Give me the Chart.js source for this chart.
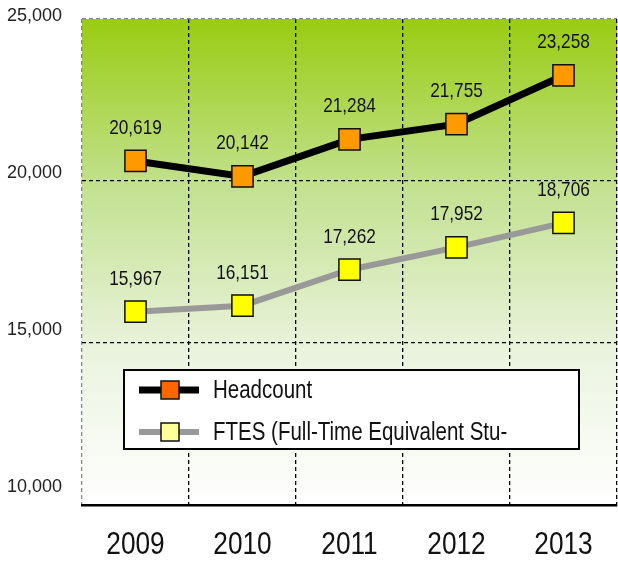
<!DOCTYPE html>
<html><head><meta charset="utf-8">
<script src="https://cdn.jsdelivr.net/npm/chart.js@4.4.0/dist/chart.umd.min.js"></script>
<style>html,body{margin:0;padding:0;background:#fff;overflow:hidden}#wrap{width:618px;height:561px}canvas{display:block}</style>
</head><body><div id="wrap"><canvas id="c" width="618" height="561"></canvas></div>
<script>
const categories = ["2009","2010","2011","2012","2013"];
const headcount = [20619, 20142, 21284, 21755, 23258];
const ftes = [15967, 16151, 17262, 17952, 18706];
const yTicks = [10000, 15000, 20000, 25000];
const seriesNames = ["Headcount", "FTES (Full-Time Equivalent Stu-"];

const SANS = "'Liberation Sans', Arial, sans-serif";
const NARROW_SCALE = 0.82;

function narrowText(ctx, text, x, y, size, align, baseline, color) {
  ctx.save();
  ctx.font = size + "px " + SANS;
  ctx.fillStyle = color;
  ctx.textAlign = align;
  ctx.textBaseline = baseline;
  ctx.translate(x, y);
  ctx.scale(NARROW_SCALE, 1);
  ctx.fillText(text, 0, 0);
  ctx.restore();
}

const bgPlugin = {
  id: 'bg',
  beforeDraw(chart) {
    const {ctx, chartArea: a} = chart;
    const g = ctx.createLinearGradient(0, a.top, 0, a.bottom);
    g.addColorStop(0, 'rgb(153,204,17)');
    g.addColorStop(0.35, 'rgb(195,225,145)');
    g.addColorStop(0.7, 'rgb(236,244,225)');
    g.addColorStop(1, 'rgb(255,255,255)');
    ctx.save();
    ctx.fillStyle = g;
    ctx.fillRect(a.left, a.top, a.right - a.left, a.bottom - a.top);
    ctx.restore();
  }
};

const tickPlugin = {
  id: 'ticklabels',
  afterDraw(chart) {
    const ctx = chart.ctx;
    const xs = chart.scales.x, ys = chart.scales.y;
    categories.forEach((c, i) => {
      narrowText(ctx, c, xs.getPixelForValue(i), 545, 32, 'center', 'middle', '#111');
    });
    yTicks.forEach(v => {
      const p = ys.getPixelForValue(v);
      ctx.save();
      ctx.font = "18px " + SANS;
      ctx.fillStyle = '#222';
      ctx.textAlign = 'right';
      ctx.textBaseline = 'middle';
      ctx.fillText(v.toLocaleString('en-US'), 62, p - 2.5 - (p - ys.top) * 0.031);
      ctx.restore();
    });
  }
};

const labelPlugin = {
  id: 'vals',
  afterDatasetsDraw(chart) {
    const ctx = chart.ctx;
    chart.data.datasets.forEach((ds, i) => {
      chart.getDatasetMeta(i).data.forEach((pt, j) => {
        narrowText(ctx, ds.data[j].toLocaleString('en-US'), pt.x, pt.y - 27, 21, 'center', 'alphabetic', '#111');
      });
    });
  }
};

const legendPlugin = {
  id: 'box',
  afterDraw(chart) {
    const ctx = chart.ctx;
    ctx.save();
    ctx.fillStyle = '#fff';
    ctx.fillRect(124, 370, 455, 79);
    ctx.strokeStyle = '#000';
    ctx.lineWidth = 2;
    ctx.strokeRect(124, 370, 455, 79);
    const rows = [
      {y: 390, line: '#000', lw: 7, fill: '#FF6600', name: seriesNames[0]},
      {y: 432, line: '#999', lw: 6, fill: '#FFFF99', name: seriesNames[1]}
    ];
    rows.forEach(r => {
      ctx.strokeStyle = r.line;
      ctx.lineWidth = r.lw;
      ctx.beginPath(); ctx.moveTo(139, r.y); ctx.lineTo(199, r.y); ctx.stroke();
      ctx.fillStyle = r.fill;
      ctx.fillRect(161, r.y - 9, 18, 18);
      ctx.strokeStyle = '#111'; ctx.lineWidth = 1.5;
      ctx.strokeRect(161, r.y - 9, 18, 18);
      narrowText(ctx, r.name, 213, r.y + 1, 25, 'left', 'middle', '#111');
    });
    ctx.restore();
  }
};

new Chart(document.getElementById('c'), {
  type: 'line',
  data: {
    labels: categories,
    datasets: [
      {label: seriesNames[0], data: headcount, borderColor: '#000', borderWidth: 7,
       pointStyle: 'rect', pointRadius: 15, pointBackgroundColor: '#FF9900',
       pointBorderColor: '#111', pointBorderWidth: 1.5, tension: 0},
      {label: seriesNames[1], data: ftes, borderColor: '#999', borderWidth: 6,
       pointStyle: 'rect', pointRadius: 15, pointBackgroundColor: '#FFFF00',
       pointBorderColor: '#111', pointBorderWidth: 1.5, tension: 0}
    ]
  },
  options: {
    responsive: false, animation: false,
    layout: {autoPadding: false, padding: {top: 19, right: 1, left: 0, bottom: 0}},
    plugins: {legend: {display: false}, tooltip: {enabled: false}},
    scales: {
      x: {
        offset: true,
        grid: {offset: true, drawTicks: false, lineWidth: 1.3,
          color: (c) => (c.index === 0 || c.index === categories.length) ? '#888' : '#000'},
        border: {color: '#000', width: 2.5, dash: [4, 3]},
        ticks: {display: false},
        afterFit(s) { s.height = 56; }
      },
      y: {
        min: 10000, max: 25000,
        afterBuildTicks(s) { s.ticks = yTicks.map(v => ({value: v})); },
        grid: {drawTicks: false, lineWidth: 1.3,
          color: (c) => c.tick && c.tick.value === 25000 ? '#888' : (c.tick && c.tick.value === 10000 ? 'rgba(0,0,0,0)' : '#000')},
        border: {display: false, dash: [4, 3]},
        ticks: {display: false},
        afterFit(s) { s.width = 82; }
      }
    }
  },
  plugins: [bgPlugin, labelPlugin, legendPlugin, tickPlugin]
});
</script>
</body></html>
